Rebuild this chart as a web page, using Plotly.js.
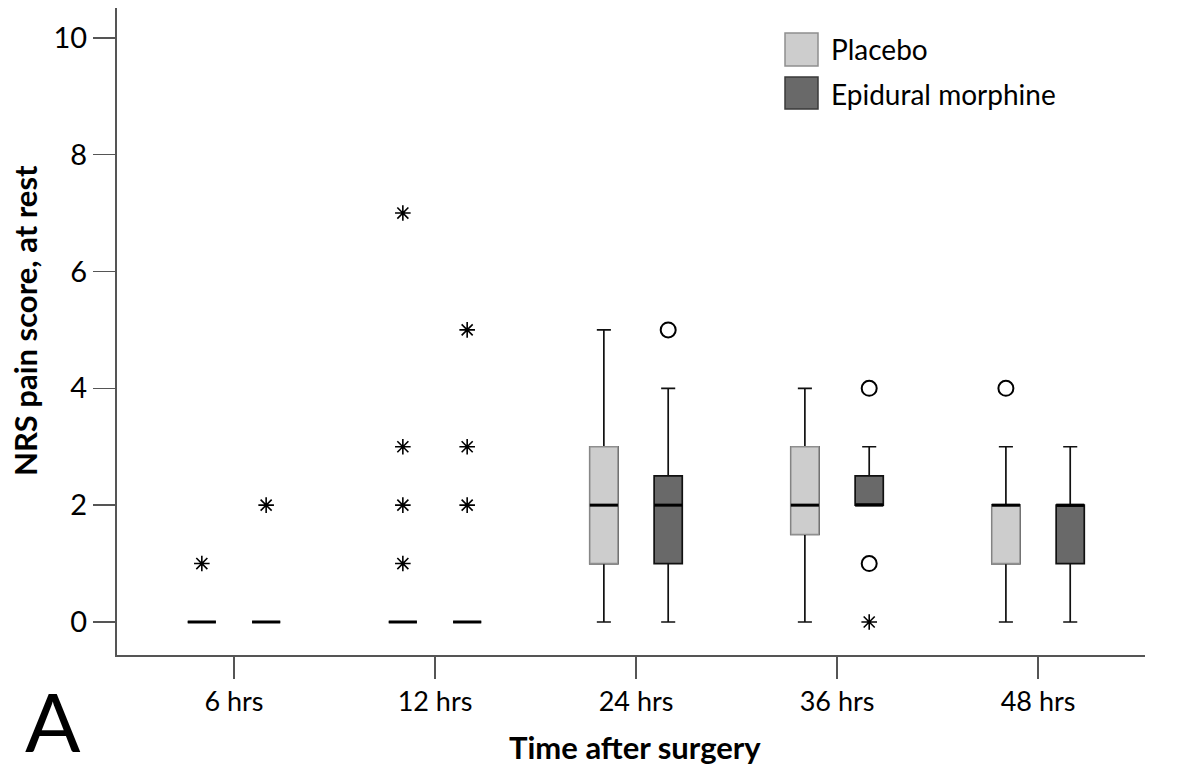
<!DOCTYPE html>
<html>
<head>
<meta charset="utf-8">
<script src="https://cdn.plot.ly/plotly-3.0.1.min.js"></script>
<style>html,body{margin:0;padding:0;background:#fff;} #chart{width:1201px;height:772px;}</style>
</head>
<body>
<div id="chart"></div>
<script>
// Categories
var categories = ["6 hrs", "12 hrs", "24 hrs", "36 hrs", "48 hrs"];
var seriesNames = ["Placebo", "Epidural morphine"];
var yTickVals = [0, 2, 4, 6, 8, 10];

// Placebo box statistics
var placeboQ1     = [0, 0, 1, 1.5, 1];
var placeboMedian = [0, 0, 2, 2,   2];
var placeboQ3     = [0, 0, 3, 3,   2];
var placeboLow    = [0, 0, 0, 0,   0];
var placeboHigh   = [0, 0, 5, 4,   3];
// Placebo outliers (circles) and extremes (asterisks): category index + value
var placeboOutCat = [4];
var placeboOutVal = [4];
var placeboExtCat = [0, 1, 1, 1, 1];
var placeboExtVal = [1, 1, 2, 3, 7];

// Epidural morphine box statistics
var epiQ1     = [0, 0, 1,   2,   1];
var epiMedian = [0, 0, 2,   2,   2];
var epiQ3     = [0, 0, 2.5, 2.5, 2];
var epiLow    = [0, 0, 0,   2,   0];
var epiHigh   = [0, 0, 4,   3,   3];
var epiOutCat = [2, 3, 3];
var epiOutVal = [5, 4, 1];
var epiExtCat = [0, 1, 1, 1, 3];
var epiExtVal = [2, 2, 3, 5, 0];

var offset = 0.16;
var boxW = 0.14;
var idx = categories.map(function(_, i){ return i; });
function pos(arr, off){ return arr.map(function(i){ return i + off; }); }
function medianSegs(med, off){
  var xs = [], ys = [];
  med.forEach(function(m, i){
    xs.push(i + off - boxW/2, i + off + boxW/2, null);
    ys.push(m, m, null);
  });
  return {x: xs, y: ys};
}

var placeboFill = "#cdcdcd", placeboLine = "#8f8f8f";
var epiFill = "#696969", epiLine = "#3a3a3a";

var traces = [];
// Placebo full (black whiskers)
traces.push({type: "box", name: seriesNames[0], x: pos(idx, -offset),
  q1: placeboQ1, median: placeboMedian, q3: placeboQ3,
  lowerfence: placeboLow, upperfence: placeboHigh,
  width: boxW, whiskerwidth: 0.5, boxpoints: false,
  fillcolor: placeboFill, line: {color: "#111", width: 1.7},
  showlegend: false, hoverinfo: "skip"});
// Placebo box overlay (gray border)
traces.push({type: "box", name: seriesNames[0], x: pos(idx, -offset),
  q1: placeboQ1, median: placeboMedian, q3: placeboQ3,
  lowerfence: placeboQ1, upperfence: placeboQ3,
  width: boxW, whiskerwidth: 0, boxpoints: false,
  fillcolor: placeboFill, line: {color: placeboLine, width: 1.4},
  showlegend: false, hoverinfo: "skip"});
// Epidural
traces.push({type: "box", name: seriesNames[1], x: pos(idx, offset),
  q1: epiQ1, median: epiMedian, q3: epiQ3,
  lowerfence: epiLow, upperfence: epiHigh,
  width: boxW, whiskerwidth: 0.5, boxpoints: false,
  fillcolor: epiFill, line: {color: "#111", width: 1.7},
  showlegend: false, hoverinfo: "skip"});
// Median lines
var pm = medianSegs(placeboMedian, -offset);
var em = medianSegs(epiMedian, offset);
traces.push({type: "scatter", mode: "lines", x: pm.x, y: pm.y, line: {color: "#000", width: 3}, showlegend: false, hoverinfo: "skip"});
traces.push({type: "scatter", mode: "lines", x: em.x, y: em.y, line: {color: "#000", width: 3}, showlegend: false, hoverinfo: "skip"});
// Outliers (open circles)
[[placeboOutCat, placeboOutVal, -offset], [epiOutCat, epiOutVal, offset]].forEach(function(g){
  traces.push({type: "scatter", mode: "markers", x: pos(g[0], g[2]), y: g[1],
    marker: {symbol: "circle-open", size: 15, color: "#000", line: {width: 2}}, showlegend: false, hoverinfo: "skip"});
});
// Extremes (asterisks)
[[placeboExtCat, placeboExtVal, -offset], [epiExtCat, epiExtVal, offset]].forEach(function(g){
  traces.push({type: "scatter", mode: "markers", x: pos(g[0], g[2]), y: g[1],
    marker: {symbol: "asterisk-open", size: 13, color: "#000", line: {width: 1.6, color: "#000"}}, showlegend: false, hoverinfo: "skip"});
});

var font = "Lato, 'Open Sans', sans-serif";
function px2x(p){ return (p - 117) / 1028; }
function px2y(p){ return (655 - p) / 647; }

var shapes = [
  {type: "rect", xref: "paper", yref: "paper", x0: px2x(785), x1: px2x(818), y0: px2y(66), y1: px2y(33),
   fillcolor: placeboFill, line: {color: placeboLine, width: 1.5}},
  {type: "rect", xref: "paper", yref: "paper", x0: px2x(785), x1: px2x(818), y0: px2y(109), y1: px2y(77),
   fillcolor: epiFill, line: {color: epiLine, width: 1.5}}
];

var annotations = [
  {text: seriesNames[0], xref: "paper", yref: "paper", x: px2x(829), y: px2y(49), xanchor: "left", yanchor: "middle",
   showarrow: false, font: {size: 28, family: font, color: "#000"}},
  {text: seriesNames[1], xref: "paper", yref: "paper", x: px2x(829), y: px2y(94), xanchor: "left", yanchor: "middle",
   showarrow: false, font: {size: 28, family: font, color: "#000"}},
  {text: "<b>Time after surgery</b>", xref: "paper", yref: "paper", x: px2x(635), y: px2y(747), xanchor: "center", yanchor: "middle",
   showarrow: false, font: {size: 31, family: font, color: "#000"}},
  {text: "<b>NRS pain score, at rest</b>", xref: "paper", yref: "paper", x: px2x(25), y: px2y(321), xanchor: "center", yanchor: "middle",
   textangle: -90, showarrow: false, font: {size: 31, family: font, color: "#000"}},
  {text: "A", xref: "paper", yref: "paper", x: px2x(53), y: px2y(771), xanchor: "center", yanchor: "bottom",
   showarrow: false, font: {size: 82, family: font, color: "#000"}}
];

var layout = {
  width: 1201, height: 772,
  margin: {l: 117, r: 56, t: 8, b: 117},
  paper_bgcolor: "#fff", plot_bgcolor: "#fff",
  boxmode: "overlay",
  showlegend: false,
  font: {family: font, color: "#000", size: 26},
  xaxis: {
    range: [-0.582, 4.532], tickvals: idx, ticktext: categories,
    showgrid: false, zeroline: false,
    showline: true, linecolor: "#555", linewidth: 2,
    ticks: "outside", ticklen: 22, tickcolor: "#555", tickwidth: 1.5,
    tickfont: {size: 27, family: font, color: "#000"}
  },
  yaxis: {
    range: [-0.565, 10.51], tickvals: yTickVals,
    showgrid: false, zeroline: false,
    showline: true, linecolor: "#555", linewidth: 2,
    ticks: "outside", ticklen: 22, tickcolor: "#555", tickwidth: 1.5,
    tickfont: {size: 29, family: font, color: "#000"}
  },
  shapes: shapes,
  annotations: annotations
};

Plotly.newPlot("chart", traces, layout, {displayModeBar: false, staticPlot: true});
</script>
</body>
</html>
